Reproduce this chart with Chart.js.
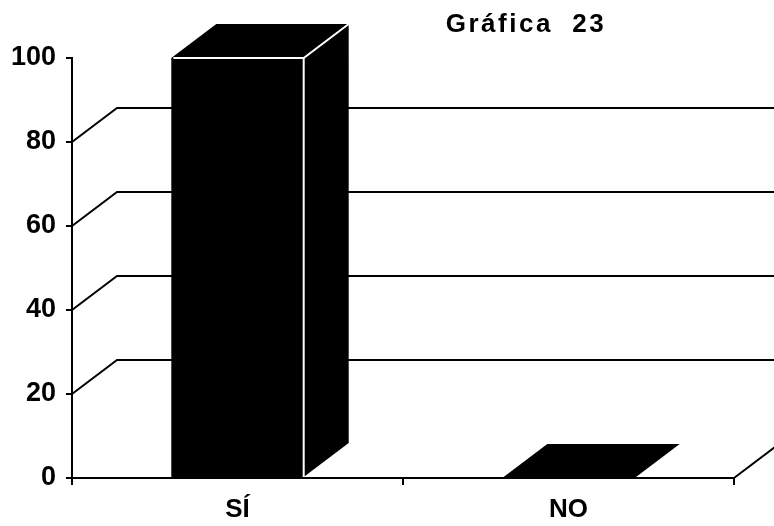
<!DOCTYPE html>
<html>
<head>
<meta charset="utf-8">
<script src="https://cdn.jsdelivr.net/npm/chart.js@4.4.0/dist/chart.umd.min.js"></script>
<style>
  html, body { margin: 0; padding: 0; background: #fff; }
  #wrap { width: 774px; height: 526px; }
</style>
</head>
<body>
<div id="wrap"><canvas id="myChart" width="774" height="526"></canvas></div>
<script>
// data
const categories = ['SÍ', 'NO'];
const values = [100, 0];
const gridLevels = [20, 40, 60, 80];   // back wall lines
const titleText = 'Gráfica  23';

// depth of the fake 3D look
const depthX = 45;
const depthY = -34;

const fontFamily = '"Liberation Sans", Arial, sans-serif';

const threeD = {
    id: 'threeD',
    beforeDatasetsDraw(chart) {
        const ctx = chart.ctx;
        const y = chart.scales.y;
        const area = chart.chartArea;
        ctx.save();
        ctx.strokeStyle = '#000';
        ctx.lineWidth = 2;
        gridLevels.forEach(function (v) {
            let py = y.getPixelForValue(v);
            ctx.beginPath();
            ctx.moveTo(area.left, py);
            ctx.lineTo(area.left + depthX, py + depthY);
            ctx.lineTo(chart.width, py + depthY);
            ctx.stroke();
        });
        // floor, right edge
        let p0 = y.getPixelForValue(0);
        ctx.beginPath();
        ctx.moveTo(area.right, p0);
        ctx.lineTo(area.right + depthX, p0 + depthY);
        ctx.stroke();
        ctx.restore();
    },
    afterDatasetsDraw(chart) {
        const ctx = chart.ctx;
        const meta = chart.getDatasetMeta(0);
        ctx.save();
        meta.data.forEach(function (bar) {
            let p = bar.getProps(['x', 'y', 'base', 'width']);
            let l = p.x - p.width / 2;
            let r = p.x + p.width / 2;
            let top = p.y;
            let base = p.base;

            ctx.fillStyle = '#000';
            // side face
            if (base - top > 0) {
                ctx.beginPath();
                ctx.moveTo(r, top);
                ctx.lineTo(r + depthX, top + depthY);
                ctx.lineTo(r + depthX, base + depthY);
                ctx.lineTo(r, base);
                ctx.closePath();
                ctx.fill();
            }
            // top face
            ctx.beginPath();
            ctx.moveTo(l, top);
            ctx.lineTo(r, top);
            ctx.lineTo(r + depthX, top + depthY);
            ctx.lineTo(l + depthX, top + depthY);
            ctx.closePath();
            ctx.fill();

            // white edges
            if (base - top > 0) {
                ctx.strokeStyle = '#fff';
                ctx.lineWidth = 2;
                ctx.beginPath();
                ctx.moveTo(l + 2, top);
                ctx.lineTo(r, top);
                ctx.lineTo(r + depthX, top + depthY);
                ctx.moveTo(r, top);
                ctx.lineTo(r, base);
                ctx.stroke();
            }
        });

        // title
        ctx.fillStyle = '#000';
        ctx.font = 'bold 26px ' + fontFamily;
        ctx.letterSpacing = '2.5px';
        ctx.textAlign = 'center';
        ctx.textBaseline = 'middle';
        ctx.fillText(titleText, 526, 25);
        ctx.restore();
    }
};

let currChart = document.getElementById('myChart').getContext('2d');

let barChart = new Chart(currChart, {
    type: 'bar',
    data: {
        labels: categories,
        datasets: [{
            data: values,
            backgroundColor: '#000',
            borderWidth: 0,
            barPercentage: 0.4,
            categoryPercentage: 1.0,
        }]
    },
    options: {
        responsive: false,
        animation: false,
        devicePixelRatio: 1,
        layout: {
            padding: { top: 58, right: 40, bottom: 0, left: 0 }
        },
        scales: {
            x: {
                afterFit: function (scale) { scale.height = 48; },
                grid: {
                    offset: true,
                    drawOnChartArea: false,
                    drawTicks: true,
                    tickLength: 7,
                    color: '#000',
                    lineWidth: 2,
                },
                border: { display: true, color: '#000', width: 2 },
                ticks: {
                    color: '#000',
                    padding: 9,
                    font: { family: fontFamily, size: 26, weight: 'bold' },
                },
            },
            y: {
                min: 0,
                max: 100,
                afterFit: function (scale) { scale.width = 72; },
                grid: {
                    drawOnChartArea: false,
                    drawTicks: true,
                    tickLength: 6,
                    color: '#000',
                    lineWidth: 2,
                },
                border: { display: true, color: '#000', width: 2 },
                ticks: {
                    stepSize: 20,
                    color: '#000',
                    padding: 10,
                    font: { family: fontFamily, size: 27, weight: 'bold' },
                },
            },
        },
        plugins: {
            legend: { display: false },
            tooltip: { enabled: false },
            title: { display: false },
        }
    },
    plugins: [threeD],
});
</script>
</body>
</html>
